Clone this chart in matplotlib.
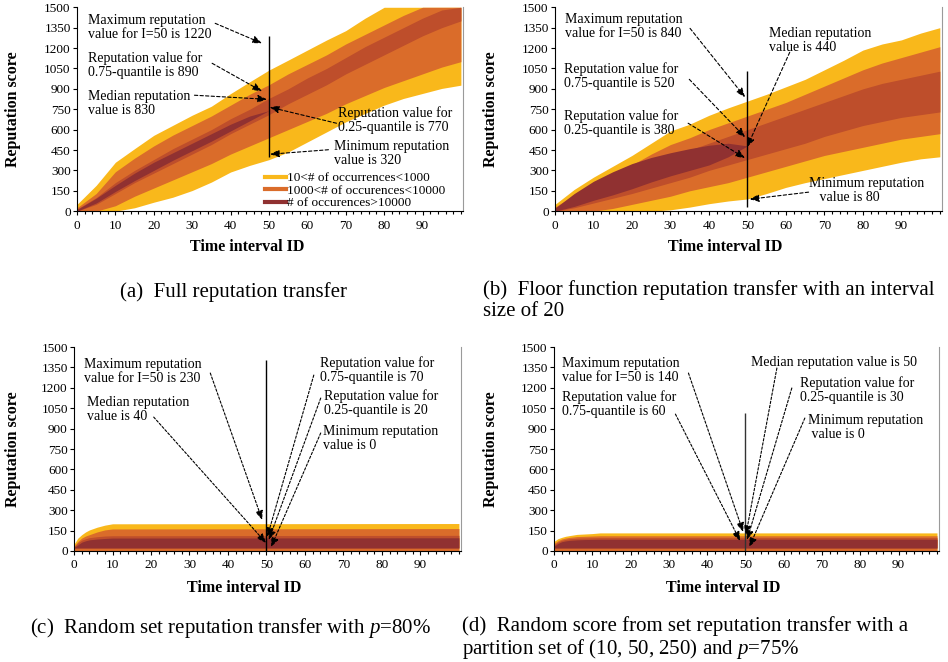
import numpy as np
import matplotlib
matplotlib.use("Agg")
import matplotlib.pyplot as plt
from matplotlib.lines import Line2D
from matplotlib.ticker import MultipleLocator

plt.rcParams["font.family"] = ["Liberation Serif", "DejaVu Serif"]
plt.rcParams["mathtext.fontset"] = "custom"
plt.rcParams["mathtext.it"] = "Liberation Serif:italic"
plt.rcParams["mathtext.rm"] = "Liberation Serif"

YELLOW = "#F9B81B"
ORANGE = "#DA6C2A"
RUST = "#BE4E2B"
DARK = "#903131"

# ── band boundaries (reputation score per time interval) ──
KNOTS_AB = [0, 5, 10, 15, 20, 25, 30, 35, 40, 45, 50, 55, 60, 65, 70, 75, 80, 85, 90, 95, 100]

# (a) full reputation transfer
YEL_HI_A = [50, 190, 360, 460, 558, 632, 706, 772, 865, 952, 1038, 1111, 1185, 1259, 1328, 1419, 1500, 1500, 1500, 1500, 1500]
YEL_LO_A = [0, 0, 0, 25, 66, 103, 152, 214, 288, 337, 379, 435, 509, 583, 657, 718, 780, 829, 866, 903, 927]
ORA_HI_A = [25, 130, 290, 390, 480, 560, 630, 700, 780, 860, 930, 1010, 1080, 1150, 1230, 1300, 1370, 1440, 1500, 1500, 1500]
ORA_LO_A = [0, 0, 40, 110, 170, 230, 290, 350, 420, 480, 540, 600, 660, 720, 790, 850, 910, 960, 1010, 1060, 1100]
RUST_HI_A = [15, 100, 210, 300, 380, 460, 530, 600, 680, 750, 830, 900, 980, 1050, 1130, 1210, 1280, 1350, 1420, 1480, 1500]
RUST_LO_A = [0, 50, 130, 210, 280, 350, 420, 490, 570, 640, 710, 790, 860, 930, 1010, 1080, 1150, 1220, 1290, 1350, 1400]
DARK_HI_A = [12, 95, 190, 280, 360, 430, 500, 570, 640, 700, 740]
DARK_LO_A = [0, 60, 145, 225, 300, 375, 445, 515, 590, 665, 740]

# (b) floor function transfer, interval size 20
YEL_HI_B = [50, 160, 250, 330, 410, 500, 590, 640, 705, 760, 810, 860, 915, 970, 1040, 1110, 1185, 1230, 1260, 1310, 1350]
YEL_LO_B = [0, 0, 0, 0, 0, 0, 10, 30, 55, 75, 90, 130, 175, 210, 240, 270, 300, 330, 360, 385, 400]
ORA_HI_B = [30, 120, 200, 270, 340, 420, 490, 540, 600, 650, 700, 750, 800, 860, 920, 980, 1040, 1090, 1130, 1170, 1210]
ORA_LO_B = [0, 0, 0, 20, 50, 80, 110, 150, 180, 210, 250, 290, 330, 370, 410, 440, 470, 500, 530, 550, 570]
RUST_HI_B = [25, 100, 170, 230, 290, 350, 400, 450, 500, 550, 600, 650, 700, 750, 800, 850, 900, 940, 970, 1000, 1030]
RUST_LO_B = [0, 25, 60, 95, 130, 170, 210, 250, 300, 340, 380, 420, 460, 500, 550, 590, 630, 660, 690, 710, 730]
DARK_HI_B = [22, 130, 220, 290, 350, 395, 430, 460, 485, 500, 480]
DARK_LO_B = [0, 35, 80, 120, 165, 215, 260, 300, 340, 400, 480]

KNOTS_C = [0, 1, 2, 3, 4, 6, 8, 10, 100]
YEL_HI_C = [50, 95, 120, 140, 155, 175, 190, 200, 202]
ORA_HI_C = [35, 70, 95, 110, 120, 140, 155, 162, 165]
RUST_HI_C = [30, 60, 80, 90, 98, 105, 110, 112, 115]
DARK_HI_C = [25, 45, 65, 75, 82, 88, 92, 95, 97]

KNOTS_D = [0, 1, 2, 3, 4, 6, 8, 10, 12, 100]
YEL_HI_D = [70, 90, 100, 108, 113, 122, 125, 128, 133, 133]
ORA_HI_D = [55, 75, 88, 95, 100, 106, 108, 110, 112, 112]
RUST_HI_D = [45, 65, 78, 85, 90, 94, 96, 97, 98, 98]
DARK_HI_D = [35, 55, 68, 74, 78, 82, 84, 85, 86, 86]
STRIP_LO = 22   # thin orange strip under the dark band (c, d)

# reputation statistics at I = 50 (a, b, c, d)
MAX_VALUE = [1220, 840, 230, 140]
Q75_VALUE = [890, 520, 70, 60]
MEDIAN_VALUE = [830, 440, 40, 50]
Q25_VALUE = [770, 380, 20, 30]
MIN_VALUE = [320, 80, 0, 0]

LEGEND_LABELS = ["10<# of occurrences<1000", "1000<# of occurences<10000", "# of occurences>10000"]
CAPTIONS = ["(a)  Full reputation transfer",
            "(b)  Floor function reputation transfer with an interval\nsize of 20",
            "(c)  Random set reputation transfer with $p$=80%",
            "(d)  Random score from set reputation transfer with a\npartition set of (10, 50, 250) and $p$=75%"]

FS = 10


def style_axes(ax, ylab_x, xlab_y):
    ax.set_xlim(0, 100.5)
    ax.set_ylim(0, 1500)
    ax.set_yticks(np.arange(0, 1501, 150))
    ax.set_xticks(np.arange(0, 91, 10))
    ax.xaxis.set_minor_locator(MultipleLocator(2))
    ax.tick_params(axis="both", which="major", labelsize=9.5, direction="out", length=3, width=0.8)
    ax.tick_params(axis="x", which="minor", direction="out", length=2.5, width=0.8)
    ax.tick_params(axis="x", pad=3)
    ax.tick_params(axis="y", pad=1.5)
    ax.spines["top"].set_visible(False)
    ax.spines["right"].set_color("#9a9a9a")
    ax.spines["right"].set_linewidth(0.8)
    ax.set_ylabel("Reputation score", fontsize=11.5, fontweight="bold")
    ax.set_xlabel("Time interval ID", fontsize=11.5, fontweight="bold")
    ax.yaxis.set_label_coords(ylab_x, 0.5)
    ax.xaxis.set_label_coords(0.44, xlab_y)


def draw_bands(ax, layers):
    for x, lo, hi, col in layers:
        ax.fill_between(x, lo, hi, color=col, lw=0, zorder=1)


def draw_notes(ax, notes, dash):
    for text, txy, src, dst in notes:
        ax.text(txy[0], txy[1], text, fontsize=FS, ha="left", va="center",
                linespacing=1.1, zorder=4)
        ax.annotate("", xy=dst, xytext=src, zorder=5,
                    arrowprops=dict(arrowstyle="-|>,head_length=0.55,head_width=0.22",
                                    linestyle=dash, color="black", lw=0.8,
                                    shrinkA=0, shrinkB=0))


fig = plt.figure(figsize=(9.48, 6.62), dpi=100)
ax_a = fig.add_axes([0.0812, 0.681, 0.407, 0.308])
ax_b = fig.add_axes([0.5854, 0.681, 0.408, 0.308])
ax_c = fig.add_axes([0.0781, 0.1677, 0.408, 0.308])
ax_d = fig.add_axes([0.5844, 0.1677, 0.406, 0.308])

# ── (a) ──
nd = len(DARK_HI_A)
draw_bands(ax_a, [(KNOTS_AB, YEL_LO_A, YEL_HI_A, YELLOW),
                  (KNOTS_AB, ORA_LO_A, ORA_HI_A, ORANGE),
                  (KNOTS_AB, RUST_LO_A, RUST_HI_A, RUST),
                  (KNOTS_AB[:nd], DARK_LO_A, DARK_HI_A, DARK)])
ax_a.vlines(50, 400, 1290, color="black", lw=1.0, zorder=3)
draw_notes(ax_a, [
    (f"Maximum reputation\nvalue for I=50 is {MAX_VALUE[0]}", (3, 1348), (36, 1382), (48.2, 1235)),
    (f"Reputation value for\n0.75-quantile is {Q75_VALUE[0]}", (3, 1074), (35.2, 1088), (48.2, 882)),
    (f"Median reputation\nvalue is {MEDIAN_VALUE[0]}", (3, 794), (30.6, 853), (49.5, 823)),
    (f"Reputation value for\n0.25-quantile is {Q25_VALUE[0]}", (68, 673), (67.6, 647), (50.2, 765)),
    (f"Minimum reputation\nvalue is {MIN_VALUE[0]}", (67, 425), (65.5, 452), (50.3, 419)),
], (0, (3, 2)))
handles = [Line2D([], [], color=c, lw=3) for c in (YELLOW, ORANGE, DARK)]
ax_a.legend(handles, LEGEND_LABELS, loc="lower left", bbox_to_anchor=(0.487, 0.01),
            frameon=False, fontsize=9.5, borderpad=0, borderaxespad=0,
            handlelength=1.6, handletextpad=0.1, labelspacing=0.02)
style_axes(ax_a, -0.145, -0.135)

# ── (b) ──
nd = len(DARK_HI_B)
draw_bands(ax_b, [(KNOTS_AB, YEL_LO_B, YEL_HI_B, YELLOW),
                  (KNOTS_AB, ORA_LO_B, ORA_HI_B, ORANGE),
                  (KNOTS_AB, RUST_LO_B, RUST_HI_B, RUST),
                  (KNOTS_AB[:nd], DARK_LO_B, DARK_HI_B, DARK)])
ax_b.vlines(50, 30, 1030, color="black", lw=1.0, zorder=3)
draw_notes(ax_b, [
    (f"Maximum reputation\nvalue for I=50 is {MAX_VALUE[1]}", (2.6, 1356), (35.1, 1345), (49.4, 838)),
    (f"Median reputation\nvalue is {MEDIAN_VALUE[1]}", (55.6, 1258), (61, 1169), (49.9, 471)),
    (f"Reputation value for\n0.75-quantile is {Q75_VALUE[1]}", (2.3, 996), (34.9, 970), (49.4, 544)),
    (f"Reputation value for\n0.25-quantile is {Q25_VALUE[1]}", (2.3, 647), (34.6, 647), (49.4, 390)),
    (f"Minimum reputation\n   value is {MIN_VALUE[1]}", (66.1, 155), (65.9, 140), (50.6, 88)),
], (0, (3, 2)))
style_axes(ax_b, -0.145, -0.135)

# ── (c) ──
draw_bands(ax_c, [(KNOTS_C, 0, YEL_HI_C, YELLOW),
                  (KNOTS_C, 0, ORA_HI_C, ORANGE),
                  (KNOTS_C, STRIP_LO, RUST_HI_C, RUST),
                  (KNOTS_C, STRIP_LO, DARK_HI_C, DARK)])
ax_c.vlines(50, 0, 1404, color="black", lw=1.0, zorder=3)
draw_notes(ax_c, [
    (f"Maximum reputation\nvalue for I=50 is {MAX_VALUE[2]}", (2.6, 1324), (35.4, 1309), (48.9, 228)),
    (f"Median reputation\nvalue is {MEDIAN_VALUE[2]}", (3.4, 1040), (20.7, 985), (49.9, 59)),
    (f"Reputation value for\n0.75-quantile is {Q75_VALUE[2]}", (64, 1334), (62.3, 1294), (50.2, 103)),
    (f"Reputation value for\n0.25-quantile is {Q25_VALUE[2]}", (64.9, 1091), (64.1, 1125), (50.6, 81)),
    (f"Minimum reputation\nvalue is {MIN_VALUE[2]}", (64.6, 831), (64.1, 868), (51.2, 29)),
], (0, (2.2, 1.6)))
style_axes(ax_c, -0.137, -0.142)

# ── (d) ──
draw_bands(ax_d, [(KNOTS_D, 0, YEL_HI_D, YELLOW),
                  (KNOTS_D, 0, ORA_HI_D, ORANGE),
                  (KNOTS_D, STRIP_LO, RUST_HI_D, RUST),
                  (KNOTS_D, STRIP_LO, DARK_HI_D, DARK)])
ax_d.vlines(50, 0, 1015, color="#333333", lw=1.0, zorder=3)
draw_notes(ax_d, [
    (f"Maximum reputation\nvalue for I=50 is {MAX_VALUE[3]}", (2.1, 1327), (35.1, 1309), (49.4, 140)),
    (f"Reputation value for\n0.75-quantile is {Q75_VALUE[3]}", (2.1, 1081), (31.7, 1007), (48.6, 74)),
    (f"Median reputation value is {MEDIAN_VALUE[3]}", (51.4, 1390), (58.2, 1346), (50.1, 118)),
    (f"Reputation value for\n0.25-quantile is {Q25_VALUE[3]}", (64.2, 1180), (62.1, 1199), (50.4, 81)),
    (f"Minimum reputation\n value is {MIN_VALUE[3]}", (66.2, 912), (65.5, 978), (51, 29)),
], (0, (2.2, 1.6)))
style_axes(ax_d, -0.143, -0.142)

# ── captions ──
fig.text(120 / 948, 1 - 292 / 662, CAPTIONS[0], fontsize=15, ha="left", va="center")
fig.text(483 / 948, 1 - 280 / 662, CAPTIONS[1], fontsize=15, ha="left", va="top", linespacing=1.12)
fig.text(30 / 948, 1 - 628 / 662, CAPTIONS[2], fontsize=15, ha="left", va="center")
fig.text(462 / 948, 1 - 616 / 662, CAPTIONS[3], fontsize=15, ha="left", va="top", linespacing=1.08)

fig.savefig("out.png", dpi=100)
